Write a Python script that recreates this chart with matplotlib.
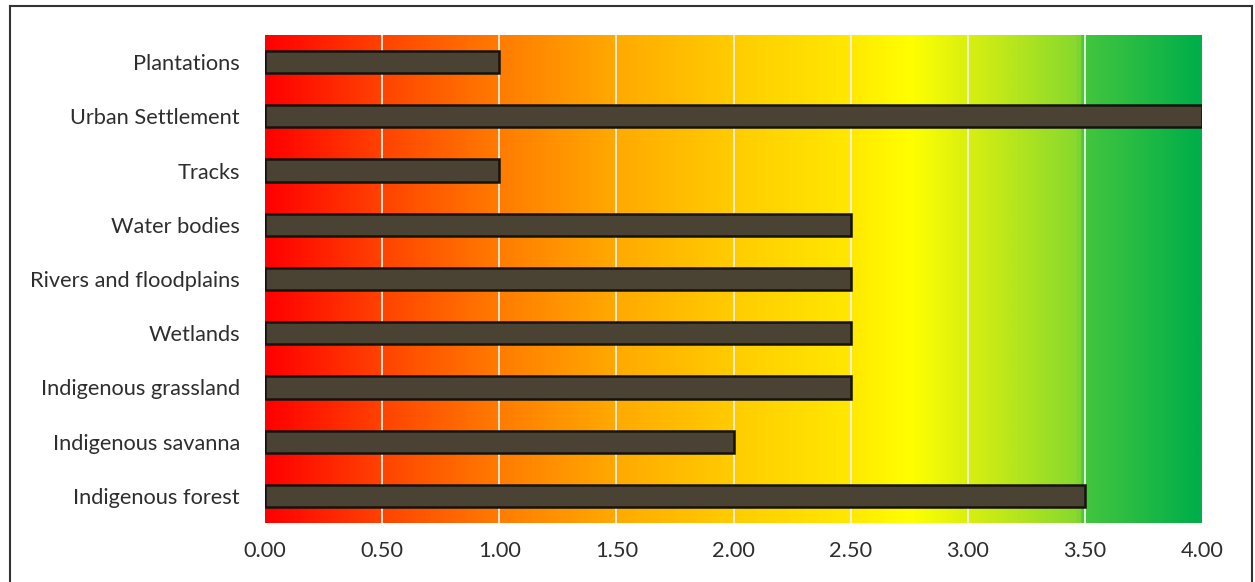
import numpy as np
import matplotlib.pyplot as plt
from matplotlib.colors import LinearSegmentedColormap
from matplotlib.lines import Line2D

categories = ["Indigenous forest", "Indigenous savanna", "Indigenous grassland",
              "Wetlands", "Rivers and floodplains", "Water bodies", "Tracks",
              "Urban Settlement", "Plantations"]
values = [3.5, 2.0, 2.5, 2.5, 2.5, 2.5, 1.0, 4.0, 1.0]
xticks = [0.0, 0.5, 1.0, 1.5, 2.0, 2.5, 3.0, 3.5, 4.0]

plt.rcParams['font.family'] = ['Lato', 'DejaVu Sans']

fig = plt.figure(figsize=(12.55, 5.82), dpi=100)
ax = fig.add_axes([265 / 1255, 1 - 523 / 582, (1202 - 265) / 1255, (523 - 35) / 582])

# background gradient red -> orange -> yellow -> green
stops = [(0.0, "#ff0000"), (0.125, "#ff4400"), (0.25, "#ff7c00"), (0.375, "#ffaa00"),
         (0.5, "#ffcc00"), (0.625, "#ffe800"), (0.69, "#ffff00"), (0.75, "#daf010"),
         (0.87, "#86d82e"), (0.875, "#44c63e"), (1.0, "#00ae4a")]
cmap = LinearSegmentedColormap.from_list("bg", stops)
grad = np.linspace(0, 1, 800).reshape(1, -1)
ax.imshow(grad, cmap=cmap, aspect="auto", extent=(0, 4, -0.5, 8.5), zorder=0)

for x in xticks[1:-1]:
    ax.axvline(x, color="#f4f0e8", lw=1.4, alpha=0.9, zorder=1)

y = np.arange(len(categories))
ax.barh(y, values, height=0.41, color="#4a4232", edgecolor="#16130f", lw=1.8, zorder=2)

ax.set_xlim(0, 4)
ax.set_ylim(-0.5, 8.5)
ax.set_yticks(y)
ax.set_yticklabels(categories, fontsize=15.7, color="#2e2e2e")
ax.set_xticks(xticks)
ax.set_xticklabels([f"{v:.2f}" for v in xticks], fontsize=15.7, color="#2e2e2e")
ax.tick_params(length=0)
ax.tick_params(axis="x", pad=13)
ax.tick_params(axis="y", pad=18)
for s in ax.spines.values():
    s.set_visible(False)

# outer frame
fx0, fx1 = 9.5 / 1255, 1251.5 / 1255
fy1 = 1 - 5.5 / 582
for xs, ys in [((fx0, fx0), (0, fy1)), ((fx0, fx1), (fy1, fy1)), ((fx1, fx1), (0, fy1))]:
    fig.add_artist(Line2D(xs, ys, color="#333333", lw=1.5, transform=fig.transFigure))

fig.savefig("out.png", dpi=100)
